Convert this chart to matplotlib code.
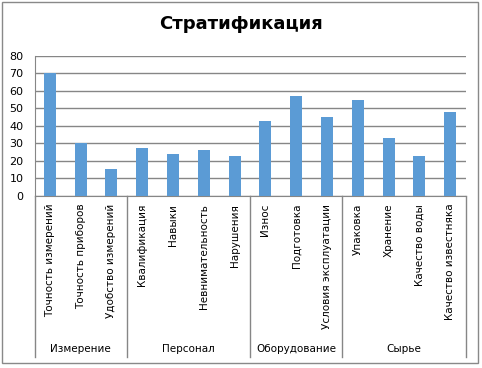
import matplotlib.pyplot as plt
from matplotlib.patches import Rectangle
from matplotlib.transforms import blended_transform_factory

categories = ['Точность измерений', 'Точность приборов', 'Удобство измерений',
              'Квалификация', 'Навыки', 'Невнимательность', 'Нарушения',
              'Износ', 'Подготовка', 'Условия эксплуатации',
              'Упаковка', 'Хранение', 'Качество воды', 'Качество известняка']
values = [70, 30, 15, 27, 24, 26, 22.5, 43, 57, 45, 55, 33, 22.5, 48]
groups = ['Измерение', 'Персонал', 'Оборудование', 'Сырье']
group_sizes = [3, 4, 3, 4]

plt.rcParams['font.family'] = 'DejaVu Sans'
fig = plt.figure(figsize=(4.82, 3.68), dpi=100)
ax = fig.add_axes([34.5/482, 1-195.5/368, (465.5-34.5)/482, (195.5-56)/368])

x = list(range(len(categories)))
ax.bar(x, values, width=0.39, color='#5B9BD5', zorder=3)
ax.set_xlim(-0.5, len(categories)-0.5)
ax.set_ylim(0, 80)
ax.set_yticks(range(0, 81, 10))
ax.grid(axis='y', color='#868686', lw=1, zorder=0)
for s in ['top', 'right']:
    ax.spines[s].set_visible(False)
for s in ['left', 'bottom']:
    ax.spines[s].set_color('#868686')
ax.tick_params(axis='y', length=0, labelsize=8, pad=8)
ax.set_xticks(x)
ax.set_xticklabels(categories, rotation=90, fontsize=7.5, va='top')
ax.tick_params(axis='x', length=0, pad=6)

tr = blended_transform_factory(ax.transData, ax.transAxes)
bottom = (195.5-357)/139.5
start = -0.5
bounds = [start]
for g, n in zip(groups, group_sizes):
    ax.text(start + n/2, (195.5-349)/139.5, g, transform=tr, ha='center',
            va='center', fontsize=7.5)
    start += n
    bounds.append(start)
for b in bounds:
    ax.plot([b, b], [0, bottom], transform=tr, color='#868686', lw=1,
            clip_on=False)

fig.text(0.5, 1-24/368, 'Стратификация', ha='center', va='center',
         fontsize=13, fontweight='bold')
fig.patches.append(Rectangle((2/482, 1-363/368), 476/482, 361/368,
                             transform=fig.transFigure, fill=False,
                             edgecolor='#898989', lw=1))
fig.savefig('out.png', dpi=100)
